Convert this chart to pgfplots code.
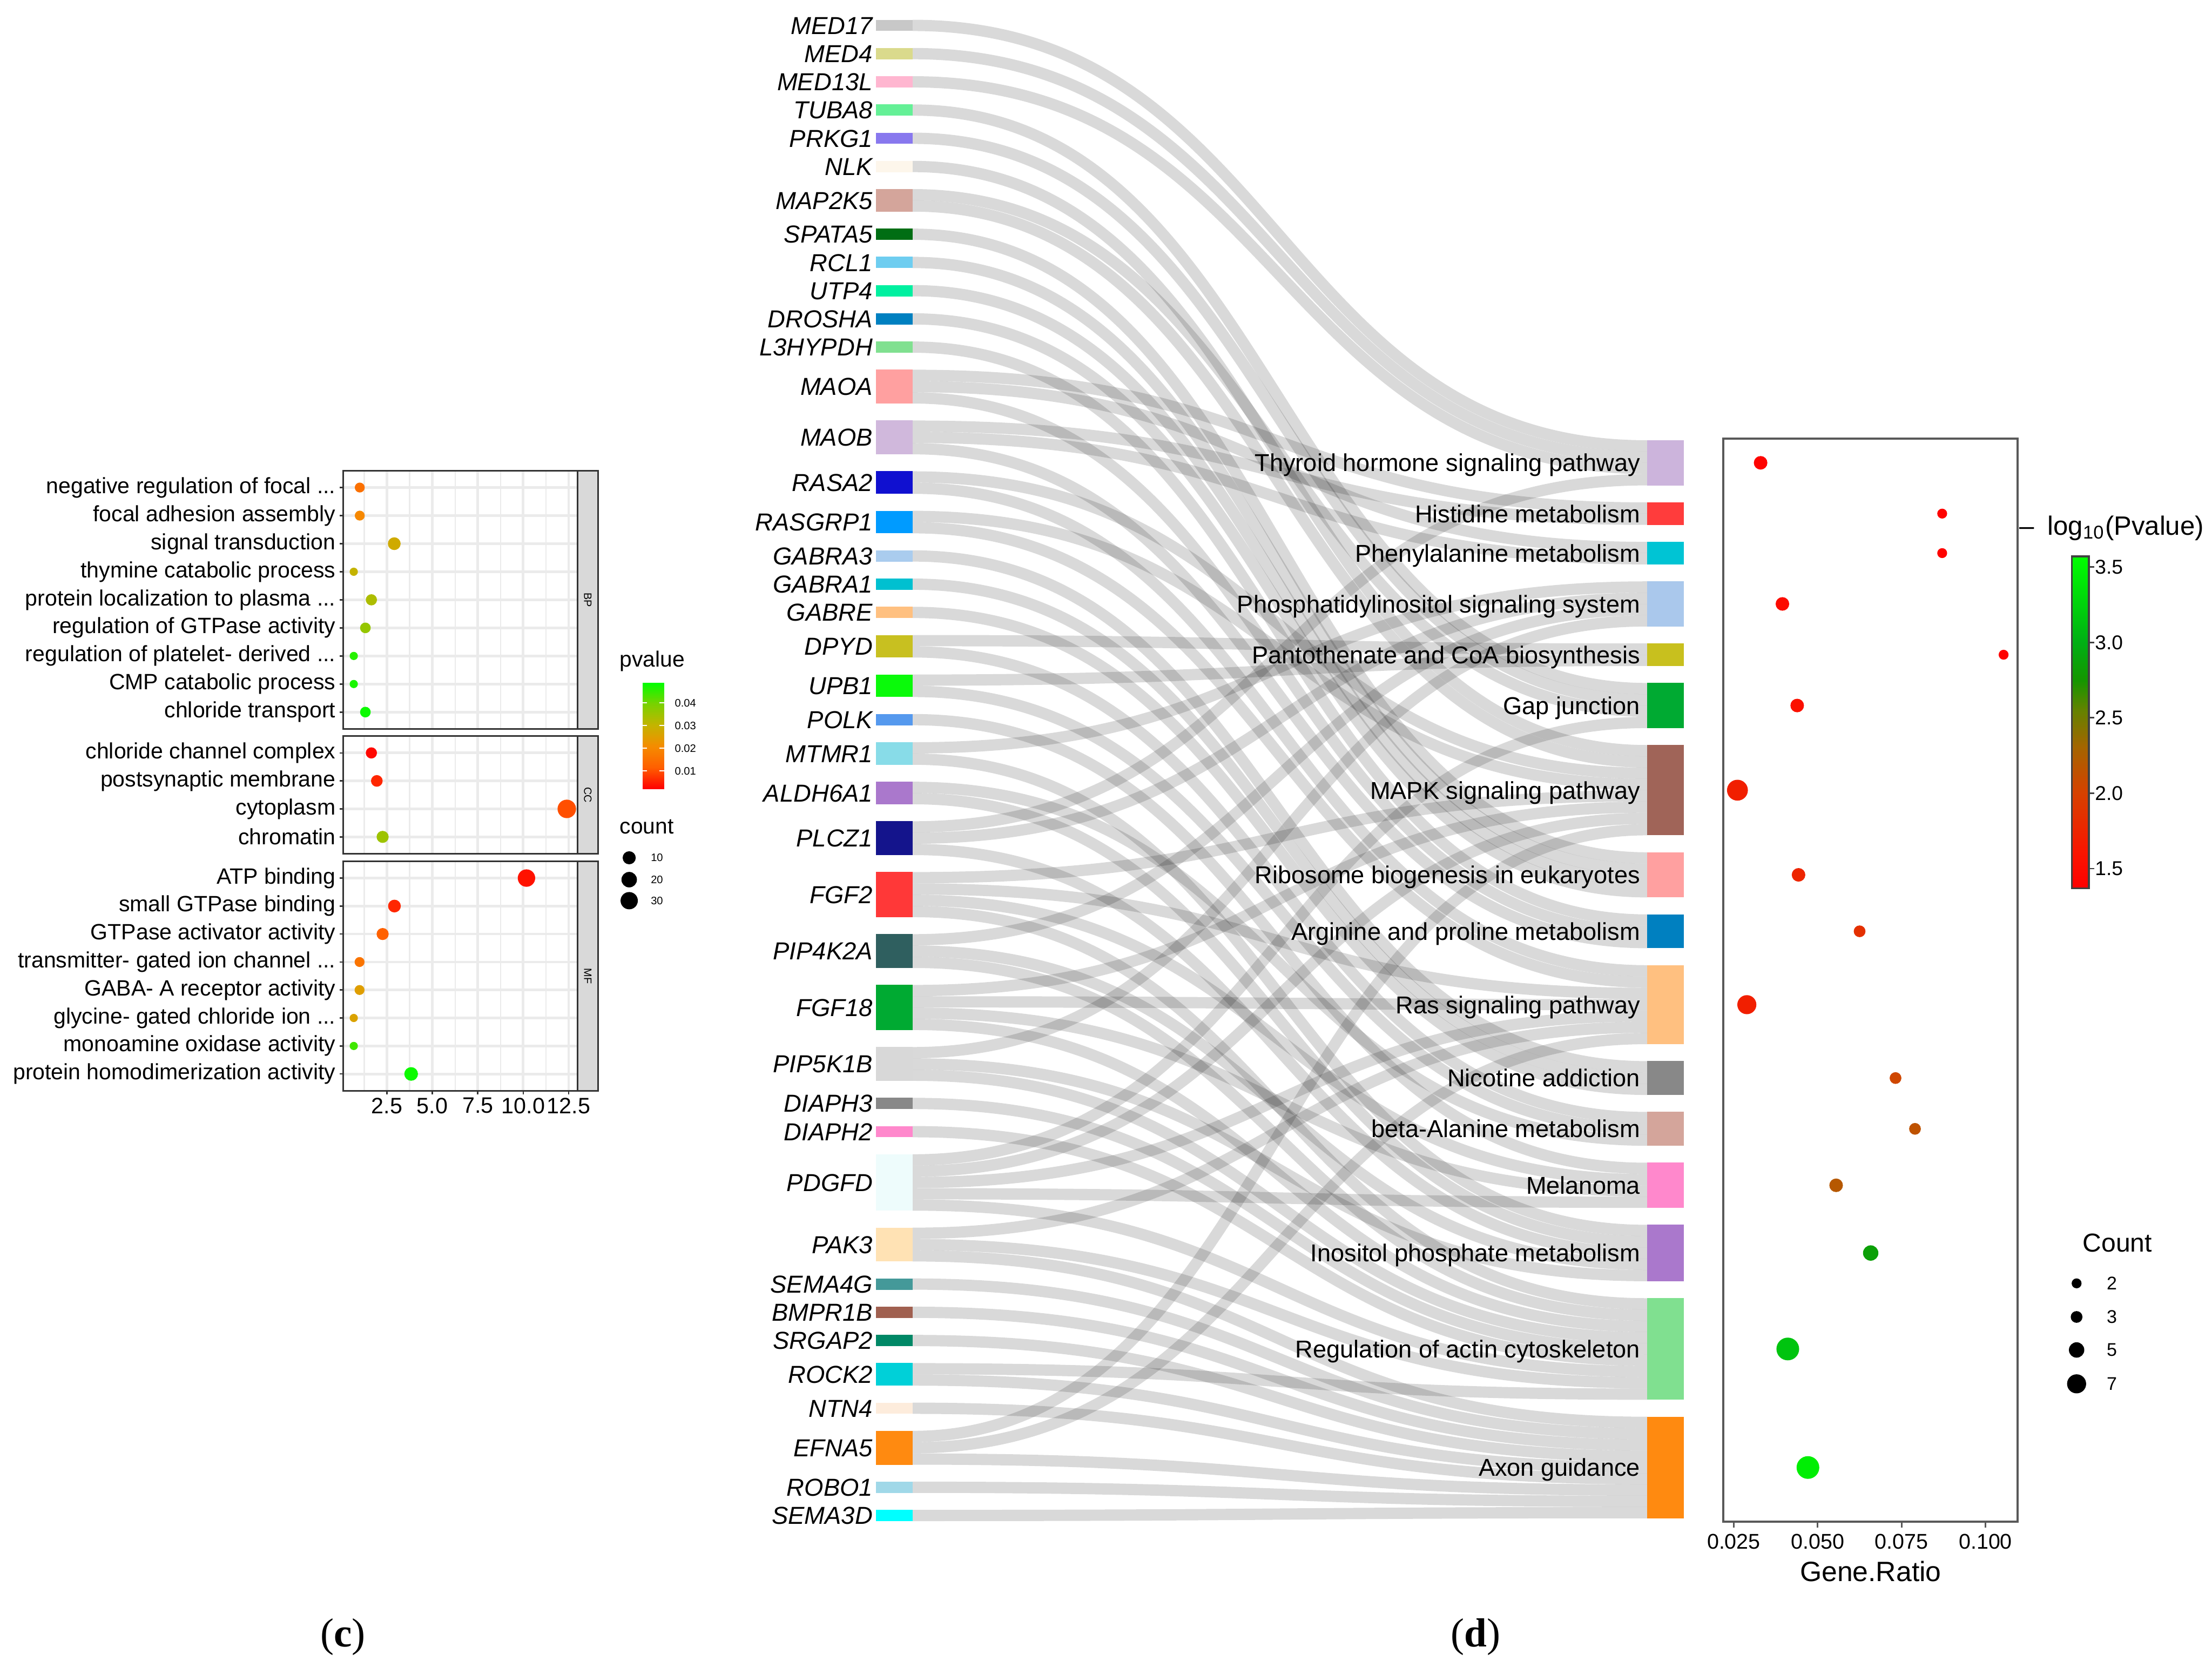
\documentclass[border=0pt]{standalone}
\usepackage{fontspec}
\setmainfont{Liberation Sans}
\newfontfamily\serifpanel{Liberation Serif}
\usepackage{pgfplots}
\pgfplotsset{compat=1.18}

\newcommand{\fs}[1]{\fontsize{#1}{#1}\selectfont}
\newcommand{\dd}{...}

\tikzset{
  lnk/.style={line width=4pt, draw=black, draw opacity=0.15},
  genelab/.style={anchor=east, inner sep=0pt, text height=6.2pt, text depth=0pt, font=\fs{8.7}\itshape},
  pwlab/.style={anchor=east, inner sep=0pt, text height=6.2pt, text depth=0pt, font=\fs{8.65}},
  leglab/.style={anchor=west, inner sep=0pt},
}

% one link of the sankey: source centre, target centre (pixel rows)
\newcommand{\lk}[2]{\draw[lnk] (axis cs:647,#1) .. controls (axis cs:907,#1) and (axis cs:907,#2) .. (axis cs:1167.6,#2);}
% gene node: label, r, g, b, top, bottom
\newcommand{\gene}[6]{\fill[fill={rgb,255:red,#2;green,#3;blue,#4}] (axis cs:621,#5) rectangle (axis cs:647,#6);
  \node[genelab] at (axis cs:619,{(#5+#6)/2}) {#1};}
% pathway node
\newcommand{\pw}[6]{\fill[fill={rgb,255:red,#2;green,#3;blue,#4}] (axis cs:1167.6,#5) rectangle (axis cs:1193.7,#6);
  \node[pwlab] at (axis cs:1163,{(#5+#6)/2}) {#1};}
% facet strip of panel c
\newcommand{\strip}[3]{\filldraw[fill={rgb,255:red,217;green,217;blue,217}, draw=black!80, line width=0.6pt] (axis cs:409.5,#1) rectangle (axis cs:423.8,#2);
  \node[rotate=-90, font=\fs{3.8}, inner sep=0pt] at (axis cs:416.65,{(#1+#2)/2}) {#3};}

\pgfplotsset{
  facet/.style={
    scale only axis, width=83.1pt, xmin=0.09, xmax=13.0, y dir=reverse,
    xtick={2.5,5,7.5,10,12.5}, minor xtick={1.25,3.75,6.25,8.75,11.25},
    xmajorgrids, xminorgrids, ymajorgrids,
    major grid style={black!8, line width=0.9pt},
    minor grid style={black!8, line width=0.45pt},
    axis line style={black!80, line width=0.6pt},
    tick style={black!80, line width=0.5pt},
    tick align=outside, major tick length=1.3pt, minor tick length=0pt,
    ytick pos=left, xtick pos=bottom,
    yticklabel style={font=\fs{7.85}, inner sep=1.2pt},
    xticklabel style={font=\fs{7.9}, inner sep=1pt},
    colormap={pc}{rgb255=(255,0,0) rgb255=(255,95,0) rgb255=(245,140,0) rgb255=(195,180,0) rgb255=(120,210,0) rgb255=(0,255,0)},
    point meta min=0.0022, point meta max=0.049,
  },
  dotsc/.style={scatter, only marks, mark=*,
    scatter/use mapped color={draw=mapped color, fill=mapped color},
    point meta=\thisrow{p},
    visualization depends on={1.25+1.825*sqrt((\thisrow{n}-2)/36) \as \ms},
    scatter/@pre marker code/.append style={/tikz/mark size=\ms}},
}

\begin{document}
\begin{tikzpicture}
\useasboundingbox (0,0) rectangle (784pt,593pt);

% whole figure in pixel units (1 px = 0.5 pt), y downwards
\begin{axis}[name=frame, at={(0pt,0pt)}, anchor=south west, scale only axis,
  width=784pt, height=593pt, xmin=0, xmax=1568, ymin=0, ymax=1186,
  y dir=reverse, hide axis, clip=false]

% ---- sankey links (gene -> pathway)
\lk{18}{316}\lk{38}{324}\lk{58}{332}
\lk{78}{488}\lk{98}{496}
\lk{118}{532}
\lk{138}{504}\lk{146}{540}
\lk{166}{608}\lk{186}{616}\lk{206}{624}\lk{226}{632}
\lk{246}{652}
\lk{266}{360}\lk{274}{388}\lk{282}{660}
\lk{302}{368}\lk{310}{396}\lk{318}{668}
\lk{338}{548}\lk{346}{688}
\lk{366}{556}\lk{374}{696}
\lk{394}{756}\lk{414}{764}\lk{434}{772}
\lk{454}{460}\lk{462}{792}
\lk{482}{468}\lk{490}{800}
\lk{510}{828}
\lk{530}{416}\lk{538}{872}
\lk{558}{808}\lk{566}{880}
\lk{586}{340}\lk{594}{424}\lk{602}{888}
\lk{622}{564}\lk{630}{704}\lk{638}{836}\lk{646}{924}
\lk{666}{432}\lk{674}{896}\lk{682}{932}
\lk{702}{572}\lk{710}{712}\lk{718}{844}\lk{726}{940}
\lk{746}{440}\lk{754}{904}\lk{762}{948}
\lk{782}{956}\lk{802}{964}
\lk{822}{512}\lk{830}{580}\lk{838}{720}\lk{846}{852}\lk{854}{972}
\lk{874}{728}\lk{882}{980}\lk{890}{1008}
\lk{910}{1016}\lk{930}{1024}\lk{950}{1032}
\lk{970}{988}\lk{978}{1040}
\lk{998}{1048}
\lk{1018}{588}\lk{1026}{736}\lk{1034}{1056}
\lk{1054}{1064}\lk{1074}{1072}

% ---- gene nodes
\gene{MED17}{200}{200}{200}{14}{22}
\gene{MED4}{218}{218}{140}{34}{42}
\gene{MED13L}{255}{182}{208}{54}{62}
\gene{TUBA8}{100}{240}{150}{74}{82}
\gene{PRKG1}{136}{120}{238}{94}{102}
\gene{NLK}{253}{246}{235}{114}{122}
\gene{MAP2K5}{212}{165}{155}{134}{150}
\gene{SPATA5}{0}{110}{20}{162}{170}
\gene{RCL1}{110}{205}{240}{182}{190}
\gene{UTP4}{0}{240}{160}{202}{210}
\gene{DROSHA}{0}{128}{192}{222}{230}
\gene{L3HYPDH}{128}{224}{144}{242}{250}
\gene{MAOA}{255}{160}{160}{262}{286}
\gene{MAOB}{208}{184}{220}{298}{322}
\gene{RASA2}{16}{16}{208}{334}{350}
\gene{RASGRP1}{0}{155}{255}{362}{378}
\gene{GABRA3}{170}{204}{238}{390}{398}
\gene{GABRA1}{0}{192}{208}{410}{418}
\gene{GABRE}{255}{192}{128}{430}{438}
\gene{DPYD}{200}{192}{32}{450}{466}
\gene{UPB1}{10}{250}{10}{478}{494}
\gene{POLK}{85}{153}{238}{506}{514}
\gene{MTMR1}{136}{220}{232}{526}{542}
\gene{ALDH6A1}{170}{120}{204}{554}{570}
\gene{PLCZ1}{20}{20}{140}{582}{606}
\gene{FGF2}{255}{56}{56}{618}{650}
\gene{PIP4K2A}{47}{95}{95}{662}{686}
\gene{FGF18}{0}{170}{50}{698}{730}
\gene{PIP5K1B}{216}{216}{216}{742}{766}
\gene{DIAPH3}{136}{136}{136}{778}{786}
\gene{DIAPH2}{255}{136}{204}{798}{806}
\gene{PDGFD}{238}{252}{252}{818}{858}
\gene{PAK3}{255}{226}{180}{870}{894}
\gene{SEMA4G}{68}{153}{153}{906}{914}
\gene{BMPR1B}{160}{96}{80}{926}{934}
\gene{SRGAP2}{0}{136}{102}{946}{954}
\gene{ROCK2}{0}{208}{216}{966}{982}
\gene{NTN4}{253}{236}{220}{994}{1002}
\gene{EFNA5}{255}{138}{16}{1014}{1038}
\gene{ROBO1}{160}{216}{232}{1050}{1058}
\gene{SEMA3D}{0}{255}{255}{1070}{1078}

% ---- pathway nodes
\pw{Thyroid hormone signaling pathway}{204}{180}{220}{312}{344}
\pw{Histidine metabolism}{255}{60}{60}{356}{372}
\pw{Phenylalanine metabolism}{0}{196}{212}{384}{400}
\pw{Phosphatidylinositol signaling system}{170}{200}{236}{412}{444}
\pw{Pantothenate and CoA biosynthesis}{200}{192}{30}{456}{472}
\pw{Gap junction}{0}{170}{50}{484}{516}
\pw{MAPK signaling pathway}{160}{100}{88}{528}{592}
\pw{Ribosome biogenesis in eukaryotes}{255}{160}{160}{604}{636}
\pw{Arginine and proline metabolism}{0}{128}{192}{648}{672}
\pw{Ras signaling pathway}{255}{192}{128}{684}{740}
\pw{Nicotine addiction}{136}{136}{136}{752}{776}
\pw{beta-Alanine metabolism}{212}{165}{155}{788}{812}
\pw{Melanoma}{255}{136}{204}{824}{856}
\pw{Inositol phosphate metabolism}{170}{120}{204}{868}{908}
\pw{Regulation of actin cytoskeleton}{128}{224}{144}{920}{992}
\pw{Axon guidance}{255}{138}{16}{1004}{1076}

% ---- panel c strips and legends
\strip{333.6}{516.6}{BP}
\strip{521.7}{605}{CC}
\strip{610.4}{773}{MF}
\node[leglab, font=\fs{7.8}] at (axis cs:439,468.5) {pvalue};
\node[leglab, font=\fs{7.8}] at (axis cs:439,586) {count};
\addplot[only marks, mark=*, black, mark size=2.11pt] coordinates {(446,607.9)};
\addplot[only marks, mark=*, black, mark size=2.54pt] coordinates {(446,623.4)};
\addplot[only marks, mark=*, black, mark size=2.86pt] coordinates {(446,638.3)};
\node[leglab, font=\fs{3.85}] at (axis cs:461,607.9) {10};
\node[leglab, font=\fs{3.85}] at (axis cs:461,623.4) {20};
\node[leglab, font=\fs{3.85}] at (axis cs:461,638.3) {30};

% ---- panel d legends
\node[leglab, font=\fs{9.4}] at (axis cs:1431,374.2) {–\hspace{2.2pt} log\textsubscript{10}(Pvalue)};
\node[leglab, font=\fs{9.2}] at (axis cs:1476,881) {Count};
\addplot[only marks, mark=*, black, mark size=1.55pt] coordinates {(1472,909.5)};
\addplot[only marks, mark=*, black, mark size=1.875pt] coordinates {(1472,933.3)};
\addplot[only marks, mark=*, black, mark size=2.525pt] coordinates {(1472,956.7)};
\addplot[only marks, mark=*, black, mark size=3.175pt] coordinates {(1472,980.7)};
\node[leglab, font=\fs{6.5}] at (axis cs:1493,909.5) {2};
\node[leglab, font=\fs{6.5}] at (axis cs:1493,933.3) {3};
\node[leglab, font=\fs{6.5}] at (axis cs:1493,956.7) {5};
\node[leglab, font=\fs{6.5}] at (axis cs:1493,980.7) {7};
\node[font=\fs{9.9}, inner sep=0pt] at (axis cs:1326,1113.7) {Gene.Ratio};

\node[font=\serifpanel\fs{14.4}, inner sep=0pt] at (axis cs:243,1160) {(\textbf{c})};
\node[font=\serifpanel\fs{14.4}, inner sep=0pt] at (axis cs:1046,1160) {(\textbf{d})};
\end{axis}

% ---- panel c: BP
\begin{axis}[facet, at={(121.65pt,334.7pt)}, anchor=south west, height=91.5pt,
  ymin=0.4, ymax=9.6, ytick={1,2,3,4,5,6,7,8,9},
  yticklabels={negative regulation of focal \dd,focal adhesion assembly,signal transduction,thymine catabolic process,protein localization to plasma \dd,regulation of GTPase activity,regulation of platelet- derived \dd,CMP catabolic process,chloride transport},
  xticklabels={}, xtick style={draw=none},
  colorbar, colorbar style={at={(parent axis.north east)}, anchor=north west,
    xshift=14.5pt, yshift=-75pt, scale only axis, width=7.6pt, height=37.7pt,
    scaled y ticks=false,
    ytick={0.01,0.02,0.03,0.04}, yticklabels={0.01,0.02,0.03,0.04},
    ytick pos=both, yticklabel pos=right, tick align=inside, major tick length=1.6pt,
    tick style={white, line width=0.4pt}, axis line style={draw=none},
    yticklabel style={font=\fs{3.85}, inner sep=0pt, xshift=3.6pt}}]
\addplot[dotsc] table {
x y p n
1.00 1 0.015 3
1.00 2 0.020 3
2.90 3 0.028 9
0.67 4 0.030 2
1.64 5 0.033 5
1.31 6 0.036 4
0.67 7 0.046 2
0.67 8 0.047 2
1.31 9 0.048 4
};
\end{axis}

% ---- panel c: CC
\begin{axis}[facet, at={(121.65pt,290.5pt)}, anchor=south west, height=41.65pt,
  ymin=0.4, ymax=4.6, ytick={1,2,3,4},
  yticklabels={chloride channel complex,postsynaptic membrane,cytoplasm,chromatin},
  xticklabels={}, xtick style={draw=none}]
\addplot[dotsc] table {
x y p n
1.64 1 0.003 5
1.94 2 0.006 6
12.40 3 0.010 38
2.26 4 0.035 7
};
\end{axis}

% ---- panel c: MF
\begin{axis}[facet, at={(121.65pt,206.5pt)}, anchor=south west, height=81.3pt,
  ymin=0.4, ymax=8.6, ytick={1,2,3,4,5,6,7,8},
  yticklabels={ATP binding,small GTPase binding,GTPase activator activity,transmitter- gated ion channel \dd,GABA- A receptor activity,glycine- gated chloride ion \dd,monoamine oxidase activity,protein homodimerization activity},
  xticklabels={2.5,5.0,7.5,10.0,12.5}]
\addplot[dotsc] table {
x y p n
10.18 1 0.004 31
2.91 2 0.006 9
2.26 3 0.012 7
0.99 4 0.016 3
0.99 5 0.025 3
0.67 6 0.026 2
0.67 7 0.044 2
3.83 8 0.048 12
};
\end{axis}

% ---- panel d: gene ratio dot plot
\begin{axis}[at={(610.8pt,53.75pt)}, anchor=south west, scale only axis,
  width=104.2pt, height=383.75pt, xmin=0.0219, xmax=0.1095,
  ymin=311, ymax=1078.5, y dir=reverse, ytick=\empty,
  xtick={0.025,0.05,0.075,0.1}, xticklabels={0.025,0.050,0.075,0.100},
  scaled x ticks=false, xtick pos=bottom, tick align=outside, major tick length=2pt,
  axis line style={black!65, line width=0.8pt}, tick style={black!65, line width=0.6pt},
  xticklabel style={font=\fs{7.55}, inner sep=0pt, yshift=-2.2pt},
  colormap={pd}{rgb255(0pt)=(255,0,0) rgb255(23pt)=(250,20,0) rgb255(63pt)=(215,65,0) rgb255(93pt)=(165,100,0) rgb255(118pt)=(100,130,0) rgb255(138pt)=(20,150,0) rgb255(163pt)=(0,175,20) rgb255(220pt)=(0,255,0)},
  point meta min=1.37, point meta max=3.571,
  colorbar, colorbar style={at={(parent axis.north east)}, anchor=north west,
    xshift=10.7pt, yshift=-41.65pt, scale only axis, width=6.1pt, height=117.55pt,
    scaled y ticks=false,
    ytick={1.5,2,2.5,3,3.5}, yticklabels={1.5,2.0,2.5,3.0,3.5},
    ytick pos=right, yticklabel pos=right, tick align=outside, major tick length=2pt,
    tick style={black!75, line width=0.5pt}, axis line style={black!75, line width=0.6pt},
    yticklabel style={font=\fs{7.1}, inner sep=0pt, xshift=0pt}}]
\addplot[scatter, only marks, mark=*,
  scatter/use mapped color={draw=mapped color, fill=mapped color},
  point meta=\thisrow{lp},
  visualization depends on={0.9+0.325*\thisrow{n} \as \ms},
  scatter/@pre marker code/.append style={/tikz/mark size=\ms}] table {
x y lp n
0.0330 328 1.42 4
0.0871 364 1.40 2
0.0871 392 1.40 2
0.0395 428 1.50 4
0.1054 464 1.40 2
0.0439 500 1.55 4
0.0261 560 1.70 8
0.0443 620 1.75 4
0.0625 660 1.85 3
0.0289 712 1.70 7
0.0732 764 2.05 3
0.0790 800 2.15 3
0.0555 840 2.20 4
0.0658 888 2.85 5
0.0411 956 3.15 9
0.0471 1040 3.45 9
};
\end{axis}
\end{tikzpicture}
\end{document}
